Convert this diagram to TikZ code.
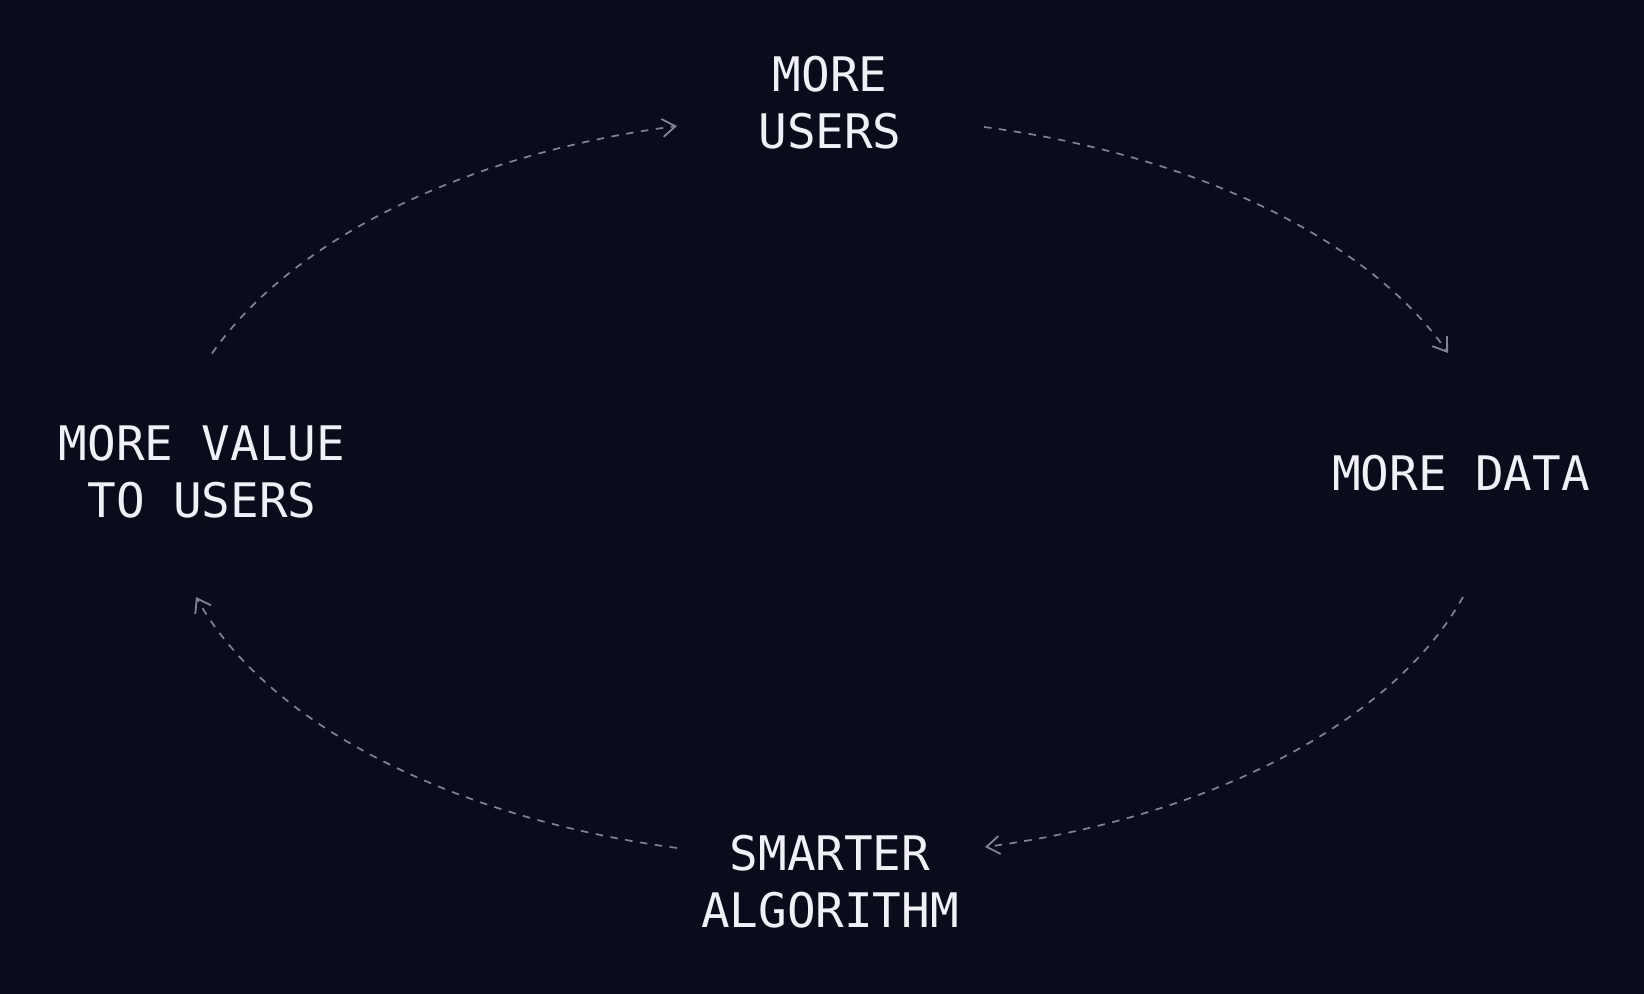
\documentclass[tikz,border=0pt]{standalone}
\usepackage{fontspec}
\setmonofont{DejaVu Sans Mono}
\usepackage{xcolor}
\usetikzlibrary{arrows.meta}
\definecolor{night}{RGB}{10,12,27}
\definecolor{chalk}{RGB}{240,241,246}
\definecolor{slate}{RGB}{128,131,148}

\begin{document}
\begin{tikzpicture}[
    x=0.5pt, y=0.5pt,
    stage/.style={text=chalk, align=center, inner sep=0pt,
                  font=\ttfamily\fontsize{23.8}{28.5}\selectfont},
    flow/.style={draw=slate, line width=0.85pt, dash pattern=on 3.75pt off 3.75pt,
                 -{Straight Barb[length=6.5pt,width=9pt,line width=0.9pt]}},
]
    % Background
    \fill[night] (0,0) rectangle (1644,994);

    % Stages
    \node[stage] (users) at (830,891) {MORE\\USERS};
    \node[stage] (data) at (1461,520.5) {MORE DATA};
    \node[stage] (algo) at (830,112) {SMARTER\\ALGORITHM};
    \node[stage] (value) at (202,522.5) {MORE VALUE\\TO USERS};

    % Loop
    \draw[flow] ([shift={(10,118)}]value.center)
        to[out=55.2, in=187.5, out looseness=0.68, in looseness=1.06]
        ([shift={(-153,-23)}]users.center);
    \draw[flow] ([shift={(154,-24)}]users.center)
        to[out=-7.5, in=124.8, out looseness=1.06, in looseness=0.68]
        ([shift={(-13,120.5)}]data.center);
    \draw[flow] ([shift={(2,-123.5)}]data.center)
        to[out=-119.2, in=7.6, out looseness=0.675, in looseness=1.084]
        ([shift={(155,35)}]algo.center);
    \draw[flow] ([shift={(-153,34)}]algo.center)
        to[out=172.4, in=-60.8, out looseness=1.084, in looseness=0.675]
        ([shift={(-6,-125.5)}]value.center);
\end{tikzpicture}
\end{document}
